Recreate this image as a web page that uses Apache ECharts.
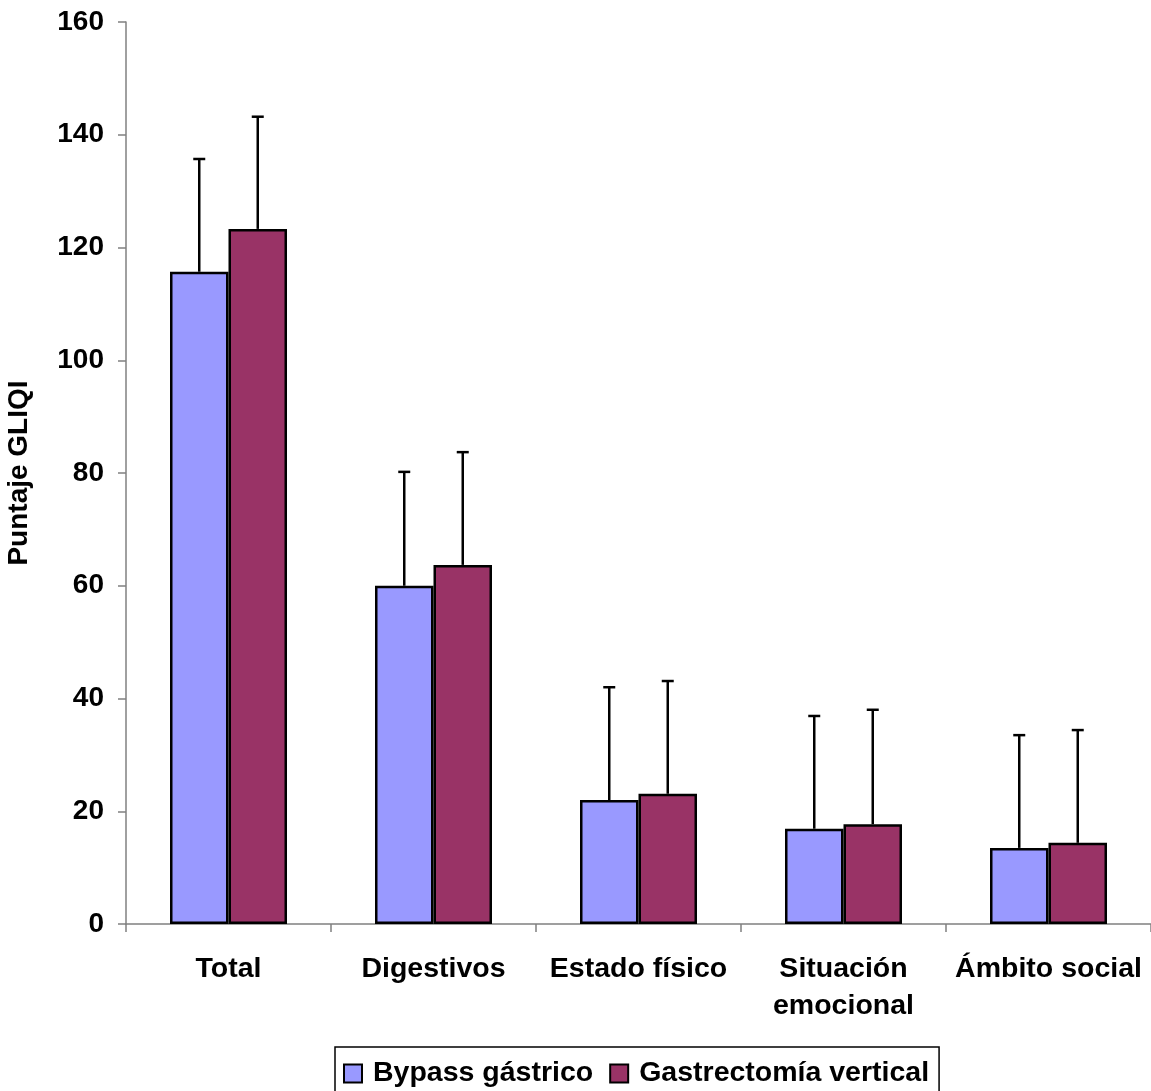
<!DOCTYPE html>
<html><head><meta charset="utf-8">
<script src="https://cdn.jsdelivr.net/npm/echarts@6/dist/echarts.min.js"></script>
<style>html,body{margin:0;padding:0;background:#fff}#c{width:1151px;height:1091px}</style>
</head><body><div id="c"></div>
<script>
var categories = ['Total', 'Digestivos', 'Estado físico', 'Situación\nemocional', 'Ámbito social'];
var seriesNames = ['Bypass gástrico', 'Gastrectomía vertical'];
var bypassMean = [115.7, 60.0, 22.0, 16.9, 13.5];
var bypassUpper = [135.7, 80.2, 42.0, 36.9, 33.5];
var sleeveMean = [123.3, 63.7, 23.1, 17.7, 14.4];
var sleeveUpper = [143.2, 83.7, 43.1, 38.0, 34.4];
var yTicks = [0, 20, 40, 60, 80, 100, 120, 140, 160];

var colors = ['#9999FF', '#993366'];
var FONT = 'Liberation Sans, Arial, sans-serif';
var chart = echarts.init(document.getElementById('c'));

function errSeries(idx, means, uppers) {
  return {
    type: 'custom',
    name: seriesNames[idx] + ' err',
    z: 5,
    silent: true,
    data: means.map(function (m, i) { return [i, m, uppers[i]]; }),
    renderItem: function (params, api) {
      var c = api.value(0);
      var base = api.coord([c, api.value(1)]);
      var top = api.coord([c, api.value(2)]);
      var barW = 58.5;
      var x = base[0] + (idx === 0 ? -barW / 2 : barW / 2);
      var st = { stroke: '#000', lineWidth: 2.5 };
      return { type: 'group', children: [
        { type: 'line', shape: { x1: x, y1: base[1], x2: x, y2: top[1] }, style: st },
        { type: 'line', shape: { x1: x - 6, y1: top[1], x2: x + 6, y2: top[1] }, style: st }
      ]};
    }
  };
}

chart.setOption({
  animation: false,
  backgroundColor: '#fff',
  grid: { left: 126, right: 0, top: 22, bottom: 167, containLabel: false, outerBoundsMode: 'none' },
  legend: {
    top: 1047, left: 335,
    icon: 'rect',
    itemWidth: 18, itemHeight: 18, itemGap: 16,
    borderColor: '#000', borderWidth: 1.5,
    padding: [12, 10, 14, 8],
    data: seriesNames.map(function (n) { return { name: n, itemStyle: { borderColor: '#000', borderWidth: 2 } }; }),
    textStyle: { fontFamily: FONT, fontWeight: 'bold', fontSize: 28.5, color: '#000', padding: [0, 0, 0, 6] }
  },
  xAxis: {
    type: 'category', data: categories,
    axisLine: { lineStyle: { color: '#808080', width: 1.5 } },
    axisTick: { show: true, length: 8, lineStyle: { color: '#808080', width: 1.5 } },
    axisLabel: { fontFamily: FONT, fontWeight: 'bold', fontSize: 28.5, color: '#000', margin: 27, lineHeight: 37, interval: 0 }
  },
  yAxis: {
    type: 'value', min: 0, max: 160, interval: 20,
    name: 'Puntaje GLIQI', nameLocation: 'middle', nameGap: 93, nameRotate: 90,
    nameTextStyle: { fontFamily: FONT, fontWeight: 'bold', fontSize: 28, color: '#000' },
    splitLine: { show: false },
    axisLine: { show: true, lineStyle: { color: '#808080', width: 1.5 } },
    axisTick: { show: true, length: 8, lineStyle: { color: '#808080', width: 1.5 } },
    axisLabel: { fontFamily: FONT, fontWeight: 'bold', fontSize: 28, color: '#000', margin: 22,
      formatter: function (v) { return yTicks.indexOf(v) >= 0 ? String(v) : ''; } }
  },
  series: [
    { type: 'bar', name: seriesNames[0], data: bypassMean, barWidth: 58.5, barGap: '0%',
      itemStyle: { color: colors[0], borderColor: '#000', borderWidth: 2.5 } },
    { type: 'bar', name: seriesNames[1], data: sleeveMean, barWidth: 58.5, barGap: '0%',
      itemStyle: { color: colors[1], borderColor: '#000', borderWidth: 2.5 } },
    errSeries(0, bypassMean, bypassUpper),
    errSeries(1, sleeveMean, sleeveUpper)
  ]
});
</script></body></html>
